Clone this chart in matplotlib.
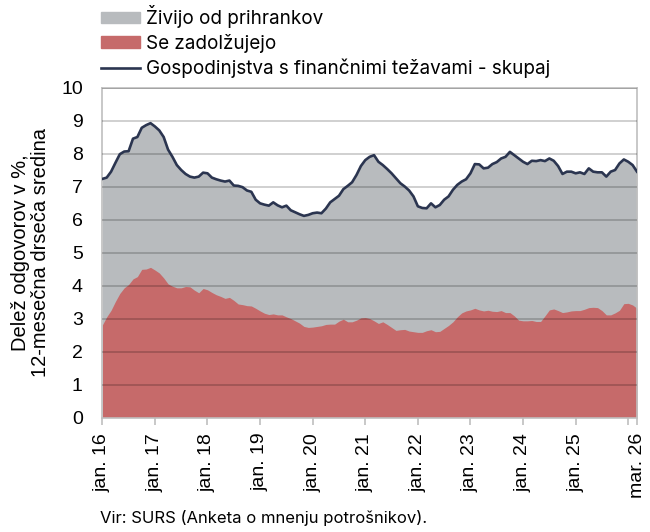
import numpy as np
import matplotlib
matplotlib.use("Agg")
import matplotlib.pyplot as plt
from matplotlib.patches import Patch
from matplotlib.lines import Line2D

# 12-month moving average, jan 2016 .. mar 2026 (monthly)
skupaj = [
    7.23, 7.27, 7.45, 7.72, 7.98, 8.06, 8.07, 8.45, 8.50, 8.78, 8.86, 8.92,
    8.82, 8.70, 8.50, 8.12, 7.90, 7.65, 7.50, 7.38, 7.30, 7.27, 7.30, 7.42,
    7.40, 7.27, 7.22, 7.18, 7.15, 7.18, 7.03, 7.02, 6.98, 6.88, 6.84, 6.60,
    6.49, 6.45, 6.42, 6.52, 6.43, 6.37, 6.42, 6.28, 6.22, 6.16, 6.11, 6.14,
    6.19, 6.21, 6.19, 6.33, 6.52, 6.62, 6.72, 6.92, 7.02, 7.13, 7.35, 7.62,
    7.80, 7.90, 7.95, 7.75, 7.65, 7.53, 7.40, 7.25, 7.10, 7.00, 6.88, 6.70,
    6.40, 6.35, 6.34, 6.49, 6.37, 6.44, 6.60, 6.70, 6.90, 7.05, 7.15, 7.22,
    7.40, 7.68, 7.67, 7.55, 7.57, 7.68, 7.74, 7.85, 7.90, 8.05, 7.95, 7.85,
    7.75, 7.68, 7.78, 7.77, 7.80, 7.77, 7.85, 7.78, 7.62, 7.38, 7.45, 7.45,
    7.40, 7.43, 7.38, 7.55, 7.45, 7.43, 7.43, 7.30, 7.45, 7.50, 7.70, 7.82,
    7.75, 7.65, 7.45,
]
zadolzujejo = [
    2.80, 3.05, 3.25, 3.52, 3.76, 3.93, 4.03, 4.20, 4.27, 4.49, 4.50, 4.55,
    4.47, 4.38, 4.23, 4.05, 3.98, 3.93, 3.93, 3.97, 3.96, 3.86, 3.78, 3.91,
    3.87, 3.79, 3.72, 3.67, 3.61, 3.64, 3.55, 3.44, 3.42, 3.39, 3.38, 3.31,
    3.23, 3.16, 3.12, 3.14, 3.11, 3.11, 3.05, 3.00, 2.93, 2.86, 2.76, 2.73,
    2.74, 2.76, 2.78, 2.82, 2.83, 2.83, 2.92, 2.98, 2.90, 2.90, 2.95, 3.02,
    3.03, 3.00, 2.93, 2.85, 2.90, 2.82, 2.73, 2.64, 2.66, 2.67, 2.62, 2.60,
    2.58, 2.58, 2.63, 2.66, 2.60, 2.61, 2.70, 2.79, 2.90, 3.05, 3.17, 3.23,
    3.26, 3.31, 3.26, 3.23, 3.25, 3.22, 3.21, 3.24, 3.18, 3.18, 3.08, 2.95,
    2.93, 2.93, 2.94, 2.91, 2.91, 3.08, 3.26, 3.29, 3.24, 3.18, 3.20, 3.23,
    3.24, 3.24, 3.28, 3.33, 3.34, 3.33, 3.24, 3.11, 3.11, 3.17, 3.25, 3.45,
    3.46, 3.41, 3.31,
]
x_labels = ["jan. 16", "jan. 17", "jan. 18", "jan. 19", "jan. 20",
            "jan. 21", "jan. 22", "jan. 23", "jan. 24", "jan. 25", "", "mar. 26"]
x_ticks = [0, 12, 24, 36, 48, 60, 72, 84, 96, 108, 120, 122]

grey = "#b8bbbe"
red = "#c66a6a"
navy = "#2b3550"
axis_grey = "#bfbfbf"

t = np.arange(len(skupaj))
fig = plt.figure(figsize=(6.5, 5.32), dpi=100)
ax = fig.add_axes([0.1574, 0.2152, 0.8226, 0.6203])

ax.fill_between(t, 0, skupaj, color=grey, lw=0, zorder=1)
ax.fill_between(t, 0, zadolzujejo, color=red, lw=0, zorder=2)
for v in range(1, 11):
    ax.axhline(v, color="black", alpha=0.2, lw=1.3, zorder=3)
ax.plot(t, skupaj, color=navy, lw=1.9, zorder=4)

ax.set_xlim(0, 122)
ax.set_ylim(0, 10)
ax.set_yticks(range(0, 11))
ax.set_xticks(x_ticks)
ax.set_xticklabels(x_labels, rotation=90, fontsize=14, family="Liberation Sans")
for lab in ax.get_yticklabels():
    lab.set_fontsize(14)
    lab.set_family("Liberation Sans")
ax.tick_params(axis="y", length=0, pad=14)
ax.tick_params(axis="x", length=5, color=axis_grey, width=1.2, pad=6)
for s in ax.spines.values():
    s.set_color(axis_grey)
    s.set_linewidth(1.2)

ax.set_ylabel("Delež odgovorov v %,\n12-mesečna drseča sredina",
              fontsize=14.5, family="Liberation Sans", labelpad=8,
              linespacing=1.1)

handles = [Patch(color=grey), Patch(color=red), Line2D([], [], color=navy, lw=1.9)]
names = ["Živijo od prihrankov", "Se zadolžujejo",
         "Gospodinjstva s finančnimi težavami - skupaj"]
fig.legend(handles, names, loc="upper left", bbox_to_anchor=(0.144, 1.005),
           frameon=False, prop={"family": "Inter", "size": 13.6},
           handlelength=2.06, handleheight=0.55, handletextpad=0.32,
           labelspacing=0.3, borderaxespad=0)

fig.text(0.154, 0.027, "Vir: SURS (Anketa o mnenju potrošnikov).",
         fontsize=12, family="Inter", va="center")

fig.savefig("out.png", dpi=100)
